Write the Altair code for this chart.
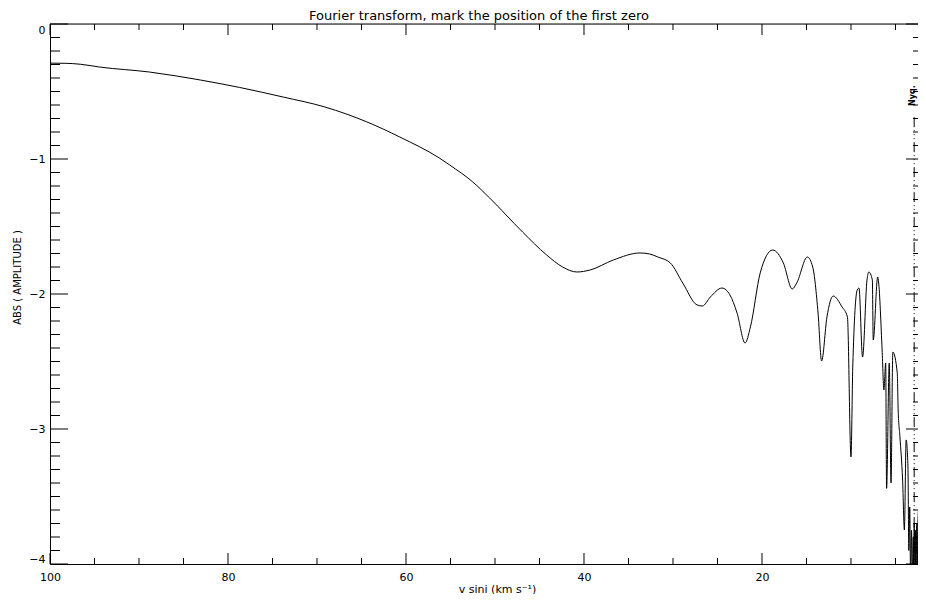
import altair as alt
import pandas as pd

# ---- data ----
vsini = [100.0, 98.3, 96.6, 94.4, 88.8, 83.1, 78.7, 73.8, 69.1, 64.4, 60.7, 56.2, 55.1,
         52.5, 50.6, 46.9, 44.2, 42.4, 40.8, 39.3, 36.7, 33.7, 32.6, 31.7, 30.3, 28.9,
         27.3, 26.7, 25.8, 24.5, 23.6, 22.8, 21.9, 21.3, 20.2, 18.8, 17.6, 16.6, 16.1,
         14.9, 14.3, 13.7, 13.3, 12.7, 12.0, 11.0, 10.4, 10.0, 9.8, 9.3, 9.1, 8.7, 8.2,
         8.0, 7.6, 7.5, 7.0, 6.9, 6.5, 6.3, 6.1, 6.0, 5.7, 5.5, 5.3, 4.8, 4.7, 4.5, 4.2,
         4.0, 3.8, 3.6, 3.5, 3.4, 3.3, 3.2, 3.1, 3.0, 2.95, 2.9, 2.8, 2.75, 2.7, 2.6,
         2.55, 2.5, 2.25, 2.0, 1.8]
log_amp = [-0.29, -0.291, -0.298, -0.319, -0.356, -0.415, -0.470, -0.541, -0.615, -0.725,
           -0.837, -0.995, -1.044, -1.170, -1.289, -1.541, -1.711, -1.800, -1.837, -1.822,
           -1.748, -1.696, -1.704, -1.726, -1.770, -1.919, -2.081, -2.089, -2.022, -1.956,
           -2.007, -2.141, -2.363, -2.244, -1.844, -1.674, -1.770, -1.963, -1.919, -1.726,
           -1.800, -2.141, -2.496, -2.170, -2.015, -2.096, -2.170, -3.207, -2.541, -1.970,
           -1.956, -2.467, -1.896, -1.837, -1.896, -2.341, -1.874, -1.911, -2.415, -2.711,
           -2.511, -3.44, -2.511, -3.40, -2.430, -2.585, -2.859, -3.059, -3.378, -3.748,
           -3.081, -3.281, -3.9, -3.578, -4.1, -3.75, -4.1, -3.8, -4.1, -3.7, -4.1, -3.75,
           -4.1, -3.7, -4.1, -3.73, -3.40, -2.415, -1.711]

x_major = [100, 80, 60, 40, 20]
x_minor = [95, 90, 85, 75, 70, 65, 55, 50, 45, 35, 30, 25, 15, 10, 5]
y_major = [0, -1, -2, -3, -4]
y_minor = [round(-k / 10, 1) for k in range(1, 40) if k % 10 != 0]

nyq_x = [2.9]
nyq_top = [-0.69]
nyq_bottom = [-4.0]
nyq_label_x = [3.0]
nyq_label_y = [-0.53]

title_text = ["Fourier transform, mark the position of the first zero"]

W, H = 868, 540
FONT = "DejaVu Sans"

xscale = alt.Scale(domain=[2.47, 100], reverse=True, nice=False, zero=False)
yscale = alt.Scale(domain=[-4, 0], nice=False, zero=False)

df = pd.DataFrame({"v": vsini, "a": log_amp})

line = alt.Chart(df).mark_line(color="black", strokeWidth=1, clip=True,
                                interpolate="monotone").encode(
    x=alt.X("v:Q", scale=xscale,
            axis=alt.Axis(values=x_major, format="d", ticks=False, grid=False,
                          domainColor="black", domainWidth=1, labelColor="black",
                          labelFont=FONT, labelFontSize=11, labelPadding=7,
                          labelFlush=False,
                          title="v sini (km s⁻¹)", titleFont=FONT, titleFontSize=11,
                          titleFontWeight="normal", titleColor="black",
                          titleX=447, titleY=25, titleBaseline="middle")),
    y=alt.Y("a:Q", scale=yscale,
            axis=alt.Axis(values=y_major, format="d", ticks=False, grid=False,
                          domainColor="black", domainWidth=1, labelColor="black",
                          labelFont=FONT, labelFontSize=11, labelPadding=5,
                          labelFlush=True,
                          title="ABS ( AMPLITUDE )", titleFont=FONT, titleFontSize=10,
                          titleFontWeight="normal", titleColor="black",
                          titleAngle=270, titleX=-33, titleY=253,
                          titleBaseline="middle", titleAlign="center")),
)

def hticks(vals, x0, x1):
    return alt.Chart(pd.DataFrame({"a": vals})).mark_rule(color="black", strokeWidth=1).encode(
        y=alt.Y("a:Q", scale=yscale), x=alt.value(x0), x2=alt.value(x1))

def vticks(vals, y0, y1):
    return alt.Chart(pd.DataFrame({"v": vals})).mark_rule(color="black", strokeWidth=1).encode(
        x=alt.X("v:Q", scale=xscale), y=alt.value(y0), y2=alt.value(y1))

left_major = hticks(y_major, 0, 18)
left_minor = hticks(y_minor, 0, 10)
right_major = hticks(y_major, W - 12, W)
right_minor = hticks(y_minor, W - 5, W)
bottom_major = vticks(x_major, H, H - 11)
bottom_minor = vticks(x_minor, H, H - 6)
top_major = vticks(x_major, 0, 11)
top_minor = vticks(x_minor, 0, 6)

top_line = alt.Chart(pd.DataFrame({"v": [0]})).mark_rule(color="black", strokeWidth=1).encode(
    x=alt.value(0), x2=alt.value(W), y=alt.value(0))

nyq = alt.Chart(pd.DataFrame({"v": nyq_x, "a": nyq_top, "a2": nyq_bottom})).mark_rule(
    color="black", strokeWidth=1, strokeDash=[10, 3, 1, 3, 1, 3, 1, 3]).encode(
    x=alt.X("v:Q", scale=xscale), y=alt.Y("a:Q", scale=yscale), y2="a2:Q")

nyq_text = alt.Chart(pd.DataFrame({"v": nyq_label_x, "a": nyq_label_y, "t": ["Nyq."]})).mark_text(
    angle=270, font=FONT, fontSize=8, fontWeight="bold", color="black",
    align="center", baseline="middle").encode(
    x=alt.X("v:Q", scale=xscale), y=alt.Y("a:Q", scale=yscale), text="t:N")

title = alt.Chart(pd.DataFrame({"t": title_text})).mark_text(
    font=FONT, fontSize=13, fontWeight="normal", color="black",
    align="center", baseline="alphabetic").encode(
    x=alt.value(429), y=alt.value(-4), text="t:N")

chart = alt.layer(
    line, left_major, left_minor, right_major, right_minor,
    bottom_major, bottom_minor, top_major, top_minor, top_line, nyq, nyq_text, title
).properties(
    width=W, height=H,
    autosize=alt.AutoSizeParams(type="none"),
    padding={"left": 42, "top": 16, "right": 0, "bottom": 30},
).configure_view(stroke=None).configure(background="white")

chart.save("out.html", embed_options={"renderer": "svg", "actions": False})
